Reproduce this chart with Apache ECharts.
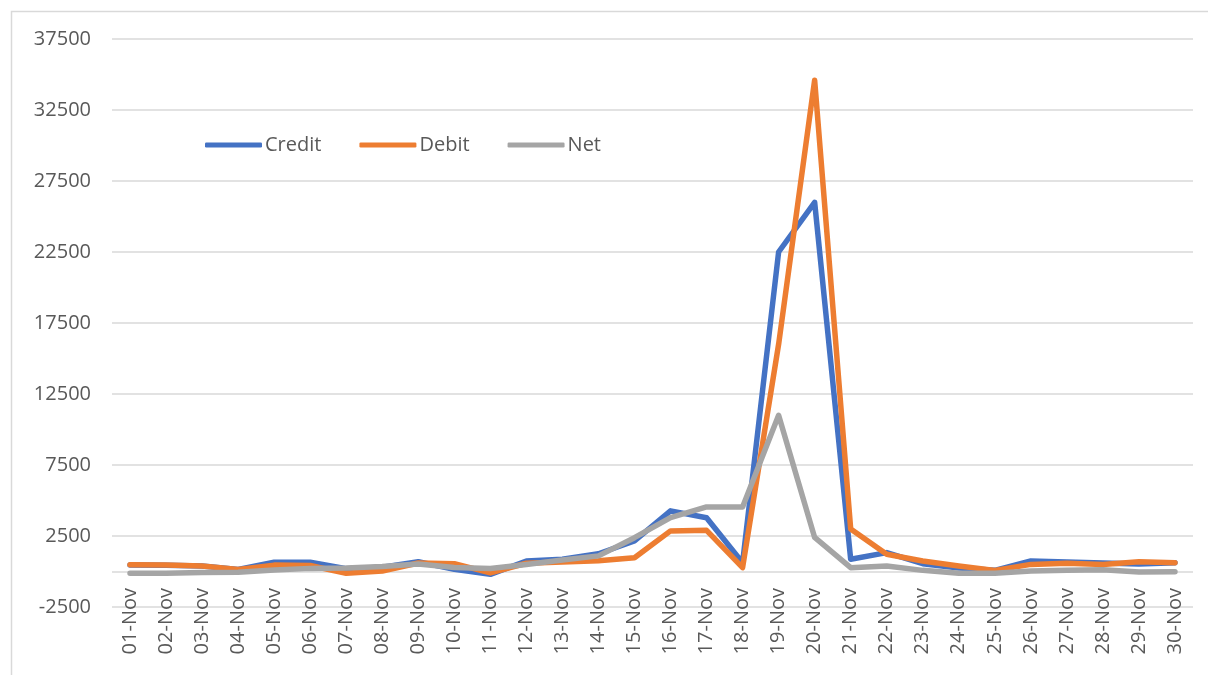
<!DOCTYPE html>
<html>
<head>
<meta charset="utf-8">
<script src="https://cdn.jsdelivr.net/npm/echarts@6/dist/echarts.min.js"></script>
<style>
html,body{margin:0;padding:0;background:#fff;}
#chart{width:1208px;height:675px;}
</style>
</head>
<body>
<div id="chart"></div>
<script>
const categories = ["01-Nov","02-Nov","03-Nov","04-Nov","05-Nov","06-Nov","07-Nov","08-Nov","09-Nov","10-Nov",
  "11-Nov","12-Nov","13-Nov","14-Nov","15-Nov","16-Nov","17-Nov","18-Nov","19-Nov","20-Nov",
  "21-Nov","22-Nov","23-Nov","24-Nov","25-Nov","26-Nov","27-Nov","28-Nov","29-Nov","30-Nov"];
const credit = [450, 440, 380, 150, 650, 650, 200, 300, 690, 150, -200, 740, 860, 1250, 2150, 4270, 3790, 620, 22500, 26000, 860, 1330, 550, 250, 80, 740, 670, 600, 530, 620];
const debit = [480, 460, 390, 150, 450, 420, -130, 30, 600, 550, -100, 580, 670, 750, 970, 2860, 2900, 270, 16000, 34600, 3000, 1210, 740, 390, 80, 500, 580, 500, 690, 620];
const net = [-130, -130, -70, -60, 100, 220, 250, 350, 530, 280, 210, 500, 810, 1100, 2380, 3790, 4550, 4550, 11000, 2400, 270, 390, 80, -130, -130, 30, 80, 130, -40, -20];
const seriesNames = ["Credit", "Debit", "Net"];
const colors = ["#4472C4", "#ED7D31", "#A5A5A5"];

const chart = echarts.init(document.getElementById('chart'), null, {renderer: 'canvas'});
const font = "'Open Sans', 'Liberation Sans', sans-serif";
const mk = (name, data, color) => ({
  name, type: 'line', data, symbol: 'none', smooth: false, z: 3,
  lineStyle: {width: 5.5, color, cap: 'round', join: 'round'},
  itemStyle: {color}
});
const series = [mk(seriesNames[0], credit, colors[0]), mk(seriesNames[1], debit, colors[1]), mk(seriesNames[2], net, colors[2])];
series[0].markLine = {
  silent: true, symbol: 'none', label: {show: false}, z: 1,
  lineStyle: {color: '#d9d9d9', width: 1.5, type: 'solid'},
  data: [{yAxis: 0}]
};
chart.setOption({
  animation: false,
  graphic: [{
    type: 'rect', left: 9, top: 9, z: -1,
    shape: {width: 1300, height: 700},
    style: {fill: 'none', stroke: '#d9d9d9', lineWidth: 1.5}
  }],
  color: colors,
  grid: {left: 112, right: 15, top: 39, bottom: 68, containLabel: false, outerBoundsMode: 'none'},
  legend: {
    left: 200, top: 130,
    icon: 'roundRect', itemWidth: 57, itemHeight: 5, itemGap: 38,
    textStyle: {fontSize: 20, color: '#595959', fontFamily: font, padding: [0,0,0,-2]},
    data: seriesNames
  },
  xAxis: {
    type: 'category', data: categories, boundaryGap: true,
    axisLine: {show: false, onZero: false},
    axisTick: {show: false},
    axisLabel: {rotate: 90, interval: 0, margin: -19, fontSize: 20, color: '#595959', fontFamily: font}
  },
  yAxis: {
    type: 'value', min: -2500, max: 37500, interval: 5000,
    axisLine: {show: false}, axisTick: {show: false},
    splitLine: {lineStyle: {color: '#d9d9d9', width: 1.5}},
    axisLabel: {margin: 21, fontSize: 20, color: '#595959', fontFamily: font, formatter: v => String(v)}
  },
  series
});
</script>
</body>
</html>
